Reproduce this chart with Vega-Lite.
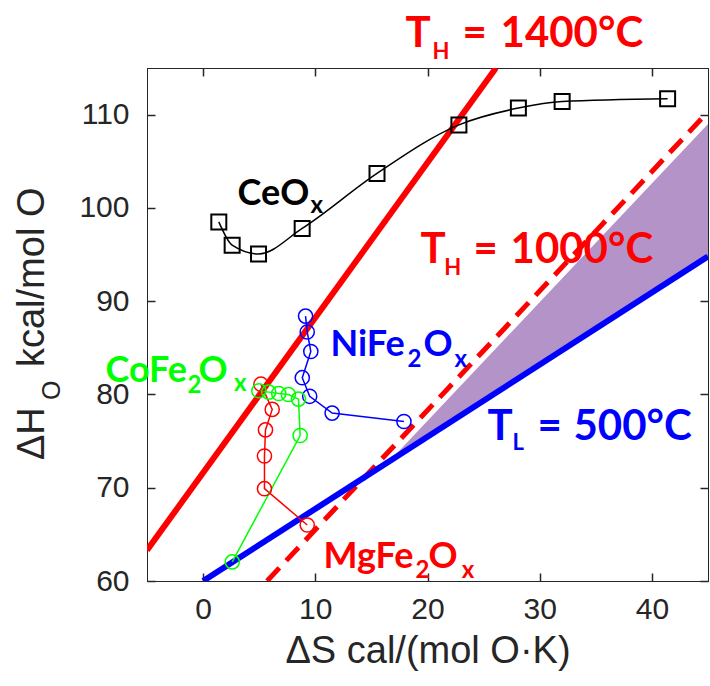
{
  "$schema": "https://vega.github.io/schema/vega-lite/v6.json",
  "autosize": "none",
  "padding": {"left": 147, "top": 68, "right": 2, "bottom": 105},
  "width": 561,
  "height": 513,
  "background": "white",
  "config": {"view": {"stroke": "#262626", "strokeWidth": 1}},
  "datasets": {
    "guides": [
      {"line": "TH1400", "x": -5, "y": 63.3},
      {"line": "TH1400", "x": 26.1, "y": 115},
      {"line": "TH1000", "x": 5.7, "y": 60},
      {"line": "TH1000", "x": 45, "y": 110.3},
      {"line": "TL500", "x": 0, "y": 60},
      {"line": "TL500", "x": 45, "y": 94.8}
    ],
    "band": [
      {"x": 16.6, "y": 72.83, "y2": 72.83},
      {"x": 45, "y": 94.8, "y2": 109}
    ],
    "series": [
      {"s": "CeOx", "i": 1, "x": 1.4, "y": 98.5},
      {"s": "CeOx", "i": 2, "x": 2.59, "y": 96.0},
      {"s": "CeOx", "i": 3, "x": 4.94, "y": 95.06},
      {"s": "CeOx", "i": 4, "x": 8.83, "y": 97.8},
      {"s": "CeOx", "i": 5, "x": 15.5, "y": 103.7},
      {"s": "CeOx", "i": 6, "x": 22.8, "y": 108.9},
      {"s": "CeOx", "i": 7, "x": 28.1, "y": 110.7},
      {"s": "CeOx", "i": 8, "x": 32.0, "y": 111.4},
      {"s": "CeOx", "i": 9, "x": 41.4, "y": 111.7},
      {"s": "NiFe2Ox", "i": 1, "x": 9.13, "y": 88.4},
      {"s": "NiFe2Ox", "i": 2, "x": 9.28, "y": 86.7},
      {"s": "NiFe2Ox", "i": 3, "x": 9.6, "y": 84.6},
      {"s": "NiFe2Ox", "i": 4, "x": 8.84, "y": 81.8},
      {"s": "NiFe2Ox", "i": 5, "x": 9.5, "y": 79.8},
      {"s": "NiFe2Ox", "i": 6, "x": 11.5, "y": 78.0},
      {"s": "NiFe2Ox", "i": 7, "x": 17.9, "y": 77.1},
      {"s": "MgFe2Ox", "i": 1, "x": 5.15, "y": 81.1},
      {"s": "MgFe2Ox", "i": 2, "x": 6.16, "y": 78.4},
      {"s": "MgFe2Ox", "i": 3, "x": 5.56, "y": 76.2},
      {"s": "MgFe2Ox", "i": 4, "x": 5.47, "y": 73.4},
      {"s": "MgFe2Ox", "i": 5, "x": 5.47, "y": 69.9},
      {"s": "MgFe2Ox", "i": 6, "x": 9.28, "y": 66.0},
      {"s": "CoFe2Ox", "i": 1, "x": 4.97, "y": 80.4},
      {"s": "CoFe2Ox", "i": 2, "x": 5.85, "y": 80.25},
      {"s": "CoFe2Ox", "i": 3, "x": 6.74, "y": 80.1},
      {"s": "CoFe2Ox", "i": 4, "x": 7.6, "y": 80.0},
      {"s": "CoFe2Ox", "i": 5, "x": 8.5, "y": 79.5},
      {"s": "CoFe2Ox", "i": 6, "x": 8.65, "y": 75.6},
      {"s": "CoFe2Ox", "i": 7, "x": 2.6, "y": 62.05}
    ],
    "labels": [
      {"g": "TH", "k": "big", "t": "T", "x": 18.04, "y": 117.25},
      {"g": "TH", "k": "bigsub", "t": "H", "x": 20.44, "y": 115.97},
      {"g": "TH", "k": "big", "t": "=", "x": 23.12, "y": 117.25},
      {"g": "TH", "k": "big", "t": "1400°C", "x": 26.51, "y": 117.25},
      {"g": "TH", "k": "big", "t": "T", "x": 19.38, "y": 94.09},
      {"g": "TH", "k": "bigsub", "t": "H", "x": 21.5, "y": 92.81},
      {"g": "TH", "k": "big", "t": "=", "x": 24.1, "y": 94.09},
      {"g": "TH", "k": "big", "t": "1000°C", "x": 27.4, "y": 94.09},
      {"g": "TL", "k": "big", "t": "T", "x": 25.35, "y": 75.12},
      {"g": "TL", "k": "bigsub", "t": "L", "x": 27.58, "y": 74.05},
      {"g": "TL", "k": "big", "t": "=", "x": 29.8, "y": 75.12},
      {"g": "TL", "k": "big", "t": "500°C", "x": 33.01, "y": 75.12},
      {"g": "CeOx", "k": "mat", "t": "CeO", "x": 3.07, "y": 100.31},
      {"g": "CeOx", "k": "matsub", "t": "x", "x": 9.57, "y": 99.46},
      {"g": "NiFe2Ox", "k": "mat", "t": "NiFe", "x": 11.35, "y": 84.12},
      {"g": "NiFe2Ox", "k": "matsub", "t": "2", "x": 18.22, "y": 82.94},
      {"g": "NiFe2Ox", "k": "mat", "t": "O", "x": 19.64, "y": 84.12},
      {"g": "NiFe2Ox", "k": "matsub", "t": "x", "x": 22.4, "y": 82.94},
      {"g": "CoFe2Ox", "k": "mat", "t": "CoFe", "x": -8.7, "y": 81.34},
      {"g": "CoFe2Ox", "k": "matsub", "t": "2", "x": -1.39, "y": 80.16},
      {"g": "CoFe2Ox", "k": "mat", "t": "O", "x": -0.41, "y": 81.34},
      {"g": "CoFe2Ox", "k": "matsub", "t": "x", "x": 2.75, "y": 80.37},
      {"g": "MgFe2Ox", "k": "mat", "t": "MgFe", "x": 10.73, "y": 61.39},
      {"g": "MgFe2Ox", "k": "matsub", "t": "2", "x": 18.93, "y": 60.32},
      {"g": "MgFe2Ox", "k": "mat", "t": "O", "x": 20.09, "y": 61.39},
      {"g": "MgFe2Ox", "k": "matsub", "t": "x", "x": 23.05, "y": 60.32}
    ],
    "ytitle": [
      {"k": "main", "t": "ΔH", "x": -14.22, "y": 72.97},
      {"k": "sub", "t": "O", "x": -12.71, "y": 79.41},
      {"k": "main", "t": "kcal/mol O", "x": -14.22, "y": 82.94}
    ]
  },
  "resolve": {"axis": {"x": "independent", "y": "independent"}},
  "layer": [
    {
      "data": {"name": "band"},
      "mark": {"type": "area", "color": "#b393c8", "opacity": 1, "clip": true},
      "encoding": {
        "x": {"field": "x", "type": "quantitative", "scale": {"domain": [-5, 45], "nice": false, "zero": false},
              "axis": {"orient": "top", "values": [0, 10, 20, 30, 40], "labels": false, "title": null, "domain": true, "domainColor": "#262626", "tickSize": -8, "tickWidth": 1.5, "tickColor": "#262626", "grid": false}},
        "y": {"field": "y", "type": "quantitative", "scale": {"domain": [60, 115], "nice": false, "zero": false},
              "axis": {"orient": "right", "values": [60, 70, 80, 90, 100, 110], "labels": false, "title": null, "domain": true, "domainColor": "#262626", "tickSize": -8, "tickWidth": 1.5, "tickColor": "#262626", "grid": false}},
        "y2": {"field": "y2"}
      }
    },
    {
      "data": {"name": "guides"},
      "transform": [{"filter": "datum.line === 'TH1400'"}],
      "mark": {"type": "line", "color": "#ff0000", "strokeWidth": 6, "clip": true},
      "encoding": {
        "x": {"field": "x", "type": "quantitative", "scale": {"domain": [-5, 45], "nice": false, "zero": false}, "axis": null},
        "y": {"field": "y", "type": "quantitative", "scale": {"domain": [60, 115], "nice": false, "zero": false}, "axis": null}
      }
    },
    {
      "data": {"name": "guides"},
      "transform": [{"filter": "datum.line === 'TH1000'"}],
      "mark": {"type": "line", "color": "#ff0000", "strokeWidth": 5, "strokeDash": [18, 10], "clip": true},
      "encoding": {
        "x": {"field": "x", "type": "quantitative", "scale": {"domain": [-5, 45], "nice": false, "zero": false}, "axis": null},
        "y": {"field": "y", "type": "quantitative", "scale": {"domain": [60, 115], "nice": false, "zero": false}, "axis": null}
      }
    },
    {
      "data": {"name": "guides"},
      "transform": [{"filter": "datum.line === 'TL500'"}],
      "mark": {"type": "line", "color": "#0000ff", "strokeWidth": 6, "clip": true},
      "encoding": {
        "x": {"field": "x", "type": "quantitative", "scale": {"domain": [-5, 45], "nice": false, "zero": false}, "axis": null},
        "y": {"field": "y", "type": "quantitative", "scale": {"domain": [60, 115], "nice": false, "zero": false}, "axis": null}
      }
    },
    {
      "data": {"name": "series"},
      "transform": [{"filter": "datum.s === 'CeOx'"}],
      "mark": {"type": "line", "color": "#000000", "strokeWidth": 1.5, "interpolate": "monotone", "clip": true},
      "encoding": {
        "x": {"field": "x", "type": "quantitative", "scale": {"domain": [-5, 45], "nice": false, "zero": false},
              "axis": {"orient": "bottom", "values": [0, 10, 20, 30, 40], "title": "ΔS cal/(mol O·K)", "grid": false,
                       "tickSize": -8, "tickWidth": 1.5, "tickColor": "#262626", "domainColor": "#262626",
                       "labelFont": "Liberation Sans", "labelFontSize": 30, "labelColor": "#262626", "labelPadding": 21,
                       "titleFont": "Liberation Sans", "titleFontSize": 38, "titleFontWeight": "normal", "titleColor": "#262626", "titlePadding": 8}},
        "y": {"field": "y", "type": "quantitative", "scale": {"domain": [60, 115], "nice": false, "zero": false},
              "axis": {"orient": "left", "values": [60, 70, 80, 90, 100, 110], "title": null, "grid": false,
                       "tickSize": -8, "tickWidth": 1.5, "tickColor": "#262626", "domainColor": "#262626",
                       "labelFont": "Liberation Sans", "labelFontSize": 30, "labelColor": "#262626", "labelPadding": 26}},
        "order": {"field": "i", "type": "quantitative"}
      }
    },
    {
      "data": {"name": "series"},
      "transform": [{"filter": "datum.s !== 'CeOx'"}],
      "mark": {"type": "line", "strokeWidth": 1.5, "clip": true},
      "encoding": {
        "x": {"field": "x", "type": "quantitative", "scale": {"domain": [-5, 45], "nice": false, "zero": false}, "axis": null},
        "y": {"field": "y", "type": "quantitative", "scale": {"domain": [60, 115], "nice": false, "zero": false}, "axis": null},
        "color": {"field": "s", "type": "nominal", "scale": {"domain": ["CeOx", "NiFe2Ox", "MgFe2Ox", "CoFe2Ox", "TH", "TL"], "range": ["#000000", "#0000ff", "#ff0000", "#00ff00", "#ff0000", "#0000ff"]}, "legend": null},
        "order": {"field": "i", "type": "quantitative"}
      }
    },
    {
      "data": {"name": "series"},
      "transform": [{"filter": "datum.s === 'CeOx'"}],
      "mark": {"type": "point", "shape": "square", "filled": false, "size": 225, "strokeWidth": 2, "color": "#000000", "opacity": 1},
      "encoding": {
        "x": {"field": "x", "type": "quantitative", "scale": {"domain": [-5, 45], "nice": false, "zero": false}, "axis": null},
        "y": {"field": "y", "type": "quantitative", "scale": {"domain": [60, 115], "nice": false, "zero": false}, "axis": null}
      }
    },
    {
      "data": {"name": "series"},
      "transform": [{"filter": "datum.s !== 'CeOx'"}],
      "mark": {"type": "point", "shape": "circle", "filled": false, "size": 200, "strokeWidth": 1.5, "opacity": 1},
      "encoding": {
        "x": {"field": "x", "type": "quantitative", "scale": {"domain": [-5, 45], "nice": false, "zero": false}, "axis": null},
        "y": {"field": "y", "type": "quantitative", "scale": {"domain": [60, 115], "nice": false, "zero": false}, "axis": null},
        "color": {"field": "s", "type": "nominal", "scale": {"domain": ["CeOx", "NiFe2Ox", "MgFe2Ox", "CoFe2Ox", "TH", "TL"], "range": ["#000000", "#0000ff", "#ff0000", "#00ff00", "#ff0000", "#0000ff"]}, "legend": null}
      }
    },
    {
      "data": {"name": "labels"},
      "transform": [{"filter": "datum.k === 'big'"}],
      "mark": {"type": "text", "font": "Lato", "fontWeight": "bold", "fontSize": 42, "align": "left", "baseline": "alphabetic"},
      "encoding": {
        "x": {"field": "x", "type": "quantitative", "scale": {"domain": [-5, 45], "nice": false, "zero": false}, "axis": null},
        "y": {"field": "y", "type": "quantitative", "scale": {"domain": [60, 115], "nice": false, "zero": false}, "axis": null},
        "text": {"field": "t"},
        "color": {"field": "g", "type": "nominal", "scale": {"domain": ["CeOx", "NiFe2Ox", "MgFe2Ox", "CoFe2Ox", "TH", "TL"], "range": ["#000000", "#0000ff", "#ff0000", "#00ff00", "#ff0000", "#0000ff"]}, "legend": null}
      }
    },
    {
      "data": {"name": "labels"},
      "transform": [{"filter": "datum.k === 'bigsub'"}],
      "mark": {"type": "text", "font": "Lato", "fontWeight": "bold", "fontSize": 22, "align": "left", "baseline": "alphabetic"},
      "encoding": {
        "x": {"field": "x", "type": "quantitative", "scale": {"domain": [-5, 45], "nice": false, "zero": false}, "axis": null},
        "y": {"field": "y", "type": "quantitative", "scale": {"domain": [60, 115], "nice": false, "zero": false}, "axis": null},
        "text": {"field": "t"},
        "color": {"field": "g", "type": "nominal", "scale": {"domain": ["CeOx", "NiFe2Ox", "MgFe2Ox", "CoFe2Ox", "TH", "TL"], "range": ["#000000", "#0000ff", "#ff0000", "#00ff00", "#ff0000", "#0000ff"]}, "legend": null}
      }
    },
    {
      "data": {"name": "labels"},
      "transform": [{"filter": "datum.k === 'mat'"}],
      "mark": {"type": "text", "font": "Lato", "fontWeight": "bold", "fontSize": 36, "align": "left", "baseline": "alphabetic"},
      "encoding": {
        "x": {"field": "x", "type": "quantitative", "scale": {"domain": [-5, 45], "nice": false, "zero": false}, "axis": null},
        "y": {"field": "y", "type": "quantitative", "scale": {"domain": [60, 115], "nice": false, "zero": false}, "axis": null},
        "text": {"field": "t"},
        "color": {"field": "g", "type": "nominal", "scale": {"domain": ["CeOx", "NiFe2Ox", "MgFe2Ox", "CoFe2Ox", "TH", "TL"], "range": ["#000000", "#0000ff", "#ff0000", "#00ff00", "#ff0000", "#0000ff"]}, "legend": null}
      }
    },
    {
      "data": {"name": "labels"},
      "transform": [{"filter": "datum.k === 'matsub'"}],
      "mark": {"type": "text", "font": "Lato", "fontWeight": "bold", "fontSize": 24, "align": "left", "baseline": "alphabetic"},
      "encoding": {
        "x": {"field": "x", "type": "quantitative", "scale": {"domain": [-5, 45], "nice": false, "zero": false}, "axis": null},
        "y": {"field": "y", "type": "quantitative", "scale": {"domain": [60, 115], "nice": false, "zero": false}, "axis": null},
        "text": {"field": "t"},
        "color": {"field": "g", "type": "nominal", "scale": {"domain": ["CeOx", "NiFe2Ox", "MgFe2Ox", "CoFe2Ox", "TH", "TL"], "range": ["#000000", "#0000ff", "#ff0000", "#00ff00", "#ff0000", "#0000ff"]}, "legend": null}
      }
    },
    {
      "data": {"name": "ytitle"},
      "transform": [{"filter": "datum.k === 'main'"}],
      "mark": {"type": "text", "font": "Liberation Sans", "fontSize": 38, "angle": 270, "align": "left", "baseline": "alphabetic", "color": "#262626"},
      "encoding": {
        "x": {"field": "x", "type": "quantitative", "scale": {"domain": [-5, 45], "nice": false, "zero": false}, "axis": null},
        "y": {"field": "y", "type": "quantitative", "scale": {"domain": [60, 115], "nice": false, "zero": false}, "axis": null},
        "text": {"field": "t"}
      }
    },
    {
      "data": {"name": "ytitle"},
      "transform": [{"filter": "datum.k === 'sub'"}],
      "mark": {"type": "text", "font": "Liberation Sans", "fontSize": 25, "angle": 270, "align": "left", "baseline": "alphabetic", "color": "#262626"},
      "encoding": {
        "x": {"field": "x", "type": "quantitative", "scale": {"domain": [-5, 45], "nice": false, "zero": false}, "axis": null},
        "y": {"field": "y", "type": "quantitative", "scale": {"domain": [60, 115], "nice": false, "zero": false}, "axis": null},
        "text": {"field": "t"}
      }
    }
  ]
}
